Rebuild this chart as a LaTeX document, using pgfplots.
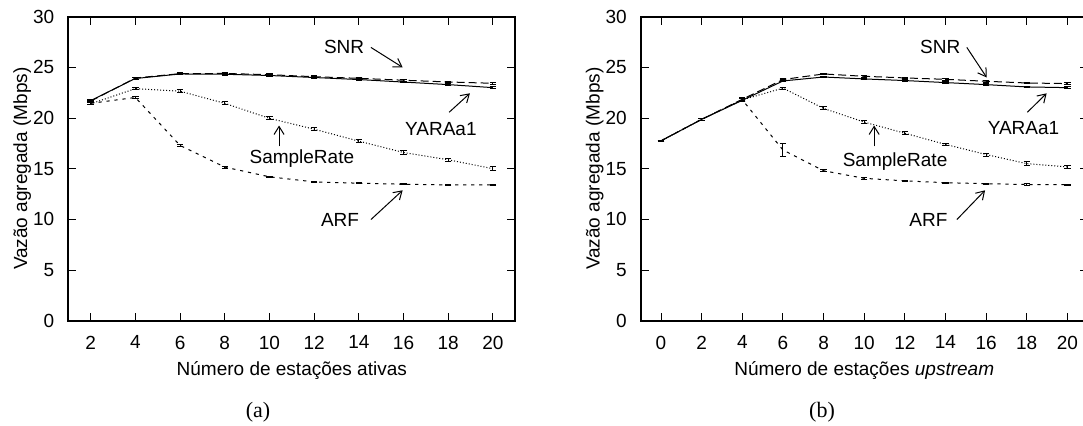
\documentclass[border=0pt]{standalone}
\usepackage{pgfplots}
\pgfplotsset{compat=1.18}
\usepackage{pgfplotstable}
\usepackage{fontspec}
\setmainfont{Liberation Sans}
\newfontfamily\capfont{Liberation Serif}
\usetikzlibrary{arrows.meta}

% (a) x = active stations
\pgfplotstableread{
x  y     e
2  21.67 0.10
4  23.95 0.10
6  24.38 0.08
8  24.40 0.10
10 24.28 0.08
12 24.08 0.08
14 23.92 0.08
16 23.73 0.08
18 23.56 0.08
20 23.43 0.08
}\snrA
\pgfplotstableread{
x  y     e
2  21.72 0.12
4  23.90 0.10
6  24.35 0.08
8  24.32 0.10
10 24.20 0.08
12 24.00 0.08
14 23.80 0.08
16 23.55 0.08
18 23.30 0.08
20 23.00 0.08
}\yaraA
\pgfplotstableread{
x  y     e
2  21.40 0.10
4  22.90 0.12
6  22.65 0.12
8  21.45 0.15
10 19.97 0.15
12 18.90 0.15
14 17.72 0.12
16 16.60 0.15
18 15.88 0.15
20 15.00 0.18
}\srA
\pgfplotstableread{
x  y     e
2  21.45 0.10
4  22.03 0.10
6  17.30 0.12
8  15.16 0.10
10 14.20 0.08
12 13.70 0.08
14 13.57 0.06
16 13.47 0.06
18 13.40 0.06
20 13.40 0.06
}\arfA

% (b) x = upstream stations
\pgfplotstableread{
x  y     e
0  17.75 0.05
2  19.87 0.12
4  21.85 0.15
6  23.80 0.10
8  24.35 0.08
10 24.12 0.08
12 23.96 0.08
14 23.82 0.08
16 23.63 0.08
18 23.46 0.08
20 23.40 0.08
}\snrB
\pgfplotstableread{
x  y     e
0  17.75 0.05
2  19.87 0.12
4  21.75 0.15
6  23.66 0.10
8  24.05 0.08
10 23.86 0.08
12 23.70 0.08
14 23.50 0.08
16 23.30 0.08
18 23.07 0.08
20 23.00 0.08
}\yaraB
\pgfplotstableread{
x  y     e
0  17.75 0.05
2  19.87 0.12
4  21.80 0.15
6  22.95 0.10
8  20.95 0.15
10 19.60 0.15
12 18.50 0.15
14 17.40 0.12
16 16.40 0.15
18 15.50 0.18
20 15.17 0.18
}\srB
\pgfplotstableread{
x  y     e
0  17.75 0.05
2  19.87 0.12
4  21.80 0.15
6  16.85 0.65
8  14.80 0.08
10 14.05 0.08
12 13.80 0.06
14 13.62 0.06
16 13.52 0.06
18 13.44 0.06
20 13.43 0.06
}\arfB

\pgfplotsset{
  vazao/.style={
    scale only axis, width=223.5pt, height=152pt,
    ymin=0, ymax=30, ytick={0,5,...,30},
    tick align=inside, major tick length=4pt,
    axis line style={line width=0.8pt},
    every tick/.style={black, line width=0.5pt},
    font=\fontsize{9.5}{11}\selectfont,
    /pgf/number format/assume math mode=true,
    yticklabel style={xshift=-3.5pt},
    xticklabel style={yshift=-4pt},
    ylabel={Vazão agregada (Mbps)},
    ylabel style={at={(axis description cs:-0.103,0.5)}, anchor=center},
    xlabel style={at={(axis description cs:0.5,-0.165)}, anchor=center},
  },
  eb/.style={error bars/.cd, y dir=both, y explicit,
    error bar style={solid, line width=0.5pt},
    error mark options={solid, rotate=90, line width=0.5pt, mark size=1.6pt}},
  snr/.style={black, line width=0.5pt, dash pattern=on 4pt off 2pt, mark=none},
  yara/.style={black, line width=0.5pt, solid, mark=none},
  sr/.style={black, line width=0.5pt, dash pattern=on 0.5pt off 1pt, mark=none},
  arf/.style={black, line width=0.5pt, dash pattern=on 1.6pt off 2.4pt, mark=none},
}
\tikzset{
  lbl/.style={font=\fontsize{9.5}{11}\selectfont},
  arr/.style={-{Straight Barb[length=4pt,width=5pt]}, line width=0.5pt},
}

\begin{document}
\begin{tikzpicture}
\useasboundingbox (0,0) rectangle (541.5pt,212.5pt);

\begin{axis}[vazao, at={(34.15pt,52.15pt)}, anchor=south west,
  xmin=1, xmax=21, xtick={2,4,...,20},
  xlabel={Número de estações ativas}]
\addplot[snr, eb] table[x=x, y=y, y error=e] {\snrA};
\addplot[yara, eb] table[x=x, y=y, y error=e] {\yaraA};
\addplot[sr, eb] table[x=x, y=y, y error=e] {\srA};
\addplot[arf, eb] table[x=x, y=y, y error=e] {\arfA};
\node[lbl] at (axis cs:13.34,27.03) {SNR};
\draw[arr] (axis cs:14.54,26.97) -- (axis cs:15.96,25.0);
\node[lbl] at (axis cs:17.67,18.93) {YARAa1};
\draw[arr] (axis cs:18.04,20.57) -- (axis cs:18.97,22.44);
\node[lbl] at (axis cs:11.45,15.98) {SampleRate};
\draw[arr] (axis cs:10.43,17.2) -- (axis cs:10.43,19.26);
\node[lbl] at (axis cs:13.16,9.92) {ARF};
\draw[arr] (axis cs:14.54,9.98) -- (axis cs:15.96,12.87);
\end{axis}

\begin{axis}[vazao, at={(320.35pt,52.15pt)}, anchor=south west,
  xmin=-1, xmax=21, xtick={0,2,...,20},
  xlabel={Número de estações \textit{upstream}}]
\addplot[snr, eb] table[x=x, y=y, y error=e] {\snrB};
\addplot[yara, eb] table[x=x, y=y, y error=e] {\yaraB};
\addplot[sr, eb] table[x=x, y=y, y error=e] {\srB};
\addplot[arf, eb] table[x=x, y=y, y error=e] {\arfB};
\node[lbl] at (axis cs:13.74,27.03) {SNR};
\draw[arr] (axis cs:15.05,26.97) -- (axis cs:16.03,24.0);
\node[lbl] at (axis cs:17.84,19.03) {YARAa1};
\draw[arr] (axis cs:18.03,20.57) -- (axis cs:18.98,22.44);
\node[lbl] at (axis cs:11.52,15.75) {SampleRate};
\draw[arr] (axis cs:10.49,17.2) -- (axis cs:10.49,19.26);
\node[lbl] at (axis cs:13.16,9.98) {ARF};
\draw[arr] (axis cs:14.56,9.98) -- (axis cs:15.95,12.87);
\end{axis}

\node[font=\capfont\fontsize{11}{13}\selectfont] at (129pt,6.5pt) {(a)};
\node[font=\capfont\fontsize{11}{13}\selectfont] at (411pt,6.5pt) {(b)};
\end{tikzpicture}
\end{document}
